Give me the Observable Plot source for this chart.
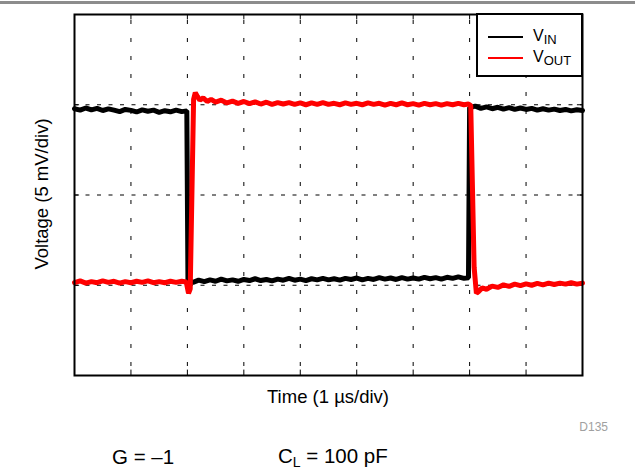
<!DOCTYPE html>
<html>
<head>
<meta charset="utf-8">
<script src="https://cdn.jsdelivr.net/npm/d3@7"></script>
<script src="https://cdn.jsdelivr.net/npm/@observablehq/plot@0.6"></script>
<style>
  html, body { margin: 0; padding: 0; background: #fff; }
  body { font-family: "Liberation Sans", Arial, sans-serif; }
  #wrap { position: relative; width: 635px; height: 470px; overflow: hidden; }
  #topline { position: absolute; left: 0; top: 1px; width: 635px; height: 3px; background: #8c8c8c; }
  .lbl { position: absolute; white-space: nowrap; color: #000; line-height: 1; }
  #legend { position: absolute; left: 476px; top: 13px; width: 103px; height: 60px; border: 2px solid #000; background: #fff; }
  #legend .row { position: absolute; left: 0; display: flex; align-items: center; line-height: 1; }
  #legend .sw { display: inline-block; width: 35px; height: 2px; margin-left: 10px; margin-right: 10px; }
  #legend .tx { font-size: 16px; }
  #legend sub { font-size: 13px; vertical-align: -3px; line-height: 1; }
</style>
</head>
<body>
<div id="wrap">
  <div id="topline"></div>
  <div id="chart"></div>
  <div id="legend"></div>
  <div class="lbl" id="ylab" style="left:42px; top:194px; transform-origin: 0 0; transform: rotate(-90deg) translate(-50%,-50%); font-size:18.5px;"></div>
  <div class="lbl" id="xlab" style="left:328px; top:397px; transform: translate(-50%,-50%); font-size:18.5px;"></div>
  <div class="lbl" id="code" style="left:608px; top:427px; transform: translate(-100%,-50%); font-size:12px; color:#a0a0a0;"></div>
  <div class="lbl" id="noteG" style="left:112px; top:457px; transform: translate(0,-50%); font-size:20.5px;"></div>
  <div class="lbl" id="noteC" style="left:278px; top:457px; transform: translate(0,-50%); font-size:20.5px;"></div>
</div>
<script>
// ---- data (time in µs, voltage in mV; 1 µs/div, 5 mV/div) ----
const seriesNames = ["VIN", "VOUT"];
const seriesColors = ["#000000", "#ff0000"];
const xTicks = [1, 2, 3, 4, 5, 6, 7, 8];
const yTicks = [-5, 0, 5];
const xDomain = [0, 9];
const yDomain = [-10, 10];
const xLabel = "Time (1 \u00b5s/div)";
const yLabel = "Voltage (5 mV/div)";
const codeLabel = "D135";
const noteGain = "G = \u20131";
const noteLoadC = "C";
const noteLoadSub = "L";
const noteLoadRest = " = 100 pF";

const vinPoints = [
  [0.00,4.78],[0.10,4.70],[0.20,4.82],[0.30,4.72],[0.40,4.80],[0.50,4.68],[0.60,4.77],[0.70,4.70],
  [0.80,4.62],[0.90,4.74],[1.00,4.69],[1.10,4.60],[1.20,4.72],[1.30,4.64],[1.40,4.70],[1.50,4.58],
  [1.60,4.67],[1.70,4.61],[1.80,4.70],[1.90,4.62],[1.99,4.66],
  [2.01,-4.74],[2.10,-4.84],[2.20,-4.72],[2.30,-4.80],[2.40,-4.70],[2.50,-4.78],[2.60,-4.66],[2.70,-4.76],
  [2.80,-4.70],[2.90,-4.78],[3.00,-4.68],[3.10,-4.74],[3.20,-4.64],[3.30,-4.74],[3.40,-4.68],[3.50,-4.76],
  [3.60,-4.66],[3.70,-4.72],[3.80,-4.62],[3.90,-4.72],[4.00,-4.66],[4.10,-4.74],[4.20,-4.64],[4.30,-4.70],
  [4.40,-4.62],[4.50,-4.70],[4.60,-4.64],[4.70,-4.72],[4.80,-4.62],[4.90,-4.68],[5.00,-4.60],[5.10,-4.70],
  [5.20,-4.62],[5.30,-4.68],[5.40,-4.58],[5.50,-4.66],[5.60,-4.60],[5.70,-4.68],[5.80,-4.58],[5.90,-4.66],
  [6.00,-4.60],[6.10,-4.66],[6.20,-4.56],[6.30,-4.64],[6.40,-4.58],[6.50,-4.66],[6.60,-4.56],[6.70,-4.62],
  [6.80,-4.54],[6.90,-4.62],[6.98,-4.58],
  [7.00,4.84],[7.10,4.92],[7.20,4.80],[7.30,4.88],[7.40,4.78],[7.50,4.86],[7.60,4.76],[7.70,4.84],
  [7.80,4.74],[7.90,4.82],[8.00,4.74],[8.10,4.80],[8.20,4.70],[8.30,4.78],[8.40,4.70],[8.50,4.76],
  [8.60,4.68],[8.70,4.74],[8.80,4.66],[8.90,4.72],[9.00,4.68]
];

const voutPoints = [
  [0.00,-4.85],[0.10,-4.76],[0.20,-4.88],[0.30,-4.80],[0.40,-4.86],[0.50,-4.76],[0.60,-4.84],[0.70,-4.78],
  [0.80,-4.88],[0.90,-4.80],[1.00,-4.86],[1.10,-4.78],[1.20,-4.84],[1.30,-4.76],[1.40,-4.86],[1.50,-4.80],
  [1.60,-4.86],[1.70,-4.78],[1.80,-4.84],[1.90,-4.78],[1.98,-4.82],
  [2.02,-5.45],[2.05,-5.20],[2.11,5.30],[2.14,5.67],[2.18,5.45],[2.22,5.25],[2.28,5.38],[2.35,5.18],
  [2.42,5.30],[2.50,5.15],[2.60,5.25],[2.70,5.10],[2.80,5.20],[2.90,5.08],[3.00,5.18],[3.10,5.06],
  [3.20,5.16],[3.30,5.04],[3.40,5.14],[3.50,5.02],[3.60,5.12],[3.70,5.04],[3.80,5.12],[3.90,5.02],
  [4.00,5.10],[4.10,5.00],[4.20,5.10],[4.30,5.02],[4.40,5.12],[4.50,5.02],[4.60,5.08],[4.70,5.00],
  [4.80,5.10],[4.90,5.02],[5.00,5.08],[5.10,5.00],[5.20,5.10],[5.30,5.02],[5.40,5.08],[5.50,4.98],
  [5.60,5.08],[5.70,5.00],[5.80,5.10],[5.90,5.00],[6.00,5.06],[6.10,4.98],[6.20,5.08],[6.30,5.00],
  [6.40,5.06],[6.50,4.98],[6.60,5.06],[6.70,5.00],[6.80,5.08],[6.90,5.00],[6.98,5.04],
  [7.02,4.95],[7.08,-4.00],[7.12,-5.45],[7.16,-5.35],[7.22,-5.15],[7.30,-5.22],[7.40,-5.05],[7.50,-5.12],
  [7.60,-4.98],[7.70,-5.06],[7.80,-4.94],[7.90,-5.02],[8.00,-4.92],[8.10,-5.00],[8.20,-4.90],[8.30,-4.98],
  [8.40,-4.88],[8.50,-4.96],[8.60,-4.88],[8.70,-4.94],[8.80,-4.86],[8.90,-4.94],[9.00,-4.88]
];

// ---- chart ----
const tickLen = 0.3; // in mV units (~5px)
const chart = Plot.plot({
  width: 635,
  height: 470,
  marginTop: 14,
  marginBottom: 95,
  marginLeft: 74,
  marginRight: 53,
  style: { background: "transparent", fontFamily: "Liberation Sans, Arial, sans-serif" },
  x: { domain: xDomain, axis: null },
  y: { domain: yDomain, axis: null },
  marks: [
    Plot.ruleX(xTicks, { x: d => d, stroke: "#000", strokeWidth: 1, strokeDasharray: "4,14", strokeDashoffset: -6 }),
    Plot.ruleY(yTicks, { y: d => d, stroke: "#000", strokeWidth: 1, strokeDasharray: "4,7.5" }),
    Plot.ruleX(xTicks, { x: d => d, y1: yDomain[1], y2: yDomain[1] - tickLen, stroke: "#000", strokeWidth: 1 }),
    Plot.ruleX(xTicks, { x: d => d, y1: yDomain[0], y2: yDomain[0] + tickLen, stroke: "#000", strokeWidth: 1 }),
    Plot.ruleY(yTicks, { y: d => d, x1: xDomain[0], x2: xDomain[0] + 0.09, stroke: "#000", strokeWidth: 1 }),
    Plot.ruleY(yTicks, { y: d => d, x1: xDomain[1], x2: xDomain[1] - 0.09, stroke: "#000", strokeWidth: 1 }),
    Plot.line(vinPoints, { x: d => d[0], y: d => d[1], stroke: seriesColors[0], strokeWidth: 5, strokeLinejoin: "miter" }),
    Plot.line(voutPoints, { x: d => d[0], y: d => d[1], stroke: seriesColors[1], strokeWidth: 5, strokeLinejoin: "miter" }),
    Plot.frame({ stroke: "#000", strokeWidth: 2 })
  ]
});
chart.style.position = "absolute";
chart.style.left = "0px";
chart.style.top = "0px";
document.getElementById("chart").appendChild(chart);

// ---- text ----
document.getElementById("ylab").textContent = yLabel;
document.getElementById("xlab").textContent = xLabel;
document.getElementById("code").textContent = codeLabel;
document.getElementById("noteG").textContent = noteGain;
const nc = document.getElementById("noteC");
nc.innerHTML = "";
nc.append(noteLoadC);
const s = document.createElement("sub");
s.textContent = noteLoadSub;
s.style.fontSize = "14px";
s.style.verticalAlign = "-4px";
s.style.lineHeight = "1";
nc.append(s, noteLoadRest);

// ---- legend ----
const legend = document.getElementById("legend");
const subs = ["IN", "OUT"];
seriesNames.forEach((name, i) => {
  const row = document.createElement("div");
  row.className = "row";
  row.style.top = (i === 0 ? 13 : 34) + "px";
  const sw = document.createElement("span");
  sw.className = "sw";
  sw.style.background = seriesColors[i];
  const tx = document.createElement("span");
  tx.className = "tx";
  tx.append(name.charAt(0));
  const sb = document.createElement("sub");
  sb.textContent = subs[i];
  tx.append(sb);
  row.append(sw, tx);
  legend.append(row);
});
</script>
</body>
</html>
